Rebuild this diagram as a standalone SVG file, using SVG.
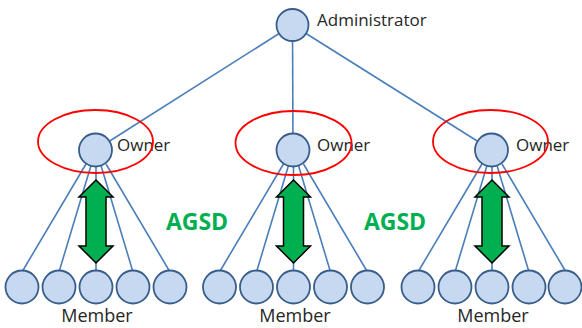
<svg xmlns="http://www.w3.org/2000/svg" width="582" height="328" viewBox="0 0 582 328">
<style>
.node{fill:#C6D9F1;stroke:#385D8A;stroke-width:1.8}
.edge{stroke:#4A7EBB;stroke-width:1.6;fill:none}
.ring{fill:none;stroke:#FF0000;stroke-width:1.8}
.arrow{fill:#00B050;stroke:#000;stroke-width:1.5;stroke-linejoin:miter}
.lbl{font-family:"Open Sans","Liberation Sans",sans-serif;font-size:17px;fill:#262626}
.mem{font-family:"Open Sans","Liberation Sans",sans-serif;font-size:18px;fill:#262626;text-anchor:middle}
.agsd{font-family:"Open Sans","Liberation Sans",sans-serif;font-size:23px;font-weight:bold;fill:#00B050;text-anchor:middle}
</style>
<defs>
<polygon id="dblarrow" class="arrow" points="0,180 17,197 10,197 10,246 17,246 0,263 -17,246 -10,246 -10,197 -17,197"/>
</defs>
<g id="connectors">
<line class="edge" x1="292.5" y1="25" x2="95.5" y2="150"/>
<line class="edge" x1="292.5" y1="25" x2="293" y2="150"/>
<line class="edge" x1="292.5" y1="25" x2="491.5" y2="150"/>
<g transform="translate(95.5,0)">
<line class="edge" x1="-9.5" y1="164" x2="-73.5" y2="272"/>
<line class="edge" x1="-4.5" y1="165.5" x2="-36.5" y2="272"/>
<line class="edge" x1="0.5" y1="166" x2="0.5" y2="272"/>
<line class="edge" x1="5.5" y1="165.5" x2="37.5" y2="272"/>
<line class="edge" x1="10.5" y1="164" x2="74.5" y2="272"/>
</g>
<g transform="translate(293,0)">
<line class="edge" x1="-9.5" y1="164" x2="-73.5" y2="272"/>
<line class="edge" x1="-4.5" y1="165.5" x2="-36.5" y2="272"/>
<line class="edge" x1="0.5" y1="166" x2="0.5" y2="272"/>
<line class="edge" x1="5.5" y1="165.5" x2="37.5" y2="272"/>
<line class="edge" x1="10.5" y1="164" x2="74.5" y2="272"/>
</g>
<g transform="translate(491.5,0)">
<line class="edge" x1="-9.5" y1="164" x2="-73.5" y2="272"/>
<line class="edge" x1="-4.5" y1="165.5" x2="-36.5" y2="272"/>
<line class="edge" x1="0.5" y1="166" x2="0.5" y2="272"/>
<line class="edge" x1="5.5" y1="165.5" x2="37.5" y2="272"/>
<line class="edge" x1="10.5" y1="164" x2="74.5" y2="272"/>
</g>
</g>
<g id="administrator">
<circle class="node" cx="292.5" cy="25" r="16"/>
<text class="lbl" x="317" y="26">Administrator</text>
</g>
<g id="owner1">
<circle class="node" cx="95.5" cy="150" r="16.5"/>
<text class="lbl" x="117" y="151">Owner</text>
<ellipse class="ring" cx="95.5" cy="141.5" rx="57.5" ry="31.5"/>
</g>
<g id="owner2">
<circle class="node" cx="293" cy="150" r="16.5"/>
<text class="lbl" x="317" y="151">Owner</text>
<ellipse class="ring" cx="293.5" cy="143" rx="58" ry="32"/>
</g>
<g id="owner3">
<circle class="node" cx="491.5" cy="150" r="16.5"/>
<text class="lbl" x="516" y="151">Owner</text>
<ellipse class="ring" cx="490.5" cy="141.5" rx="57.5" ry="31.5"/>
</g>
<g id="arrows">
<use href="#dblarrow" x="96"/>
<use href="#dblarrow" x="293.5"/>
<use href="#dblarrow" x="492"/>
</g>
<g id="members1">
<circle class="node" cx="22" cy="287" r="16.5"/>
<circle class="node" cx="59" cy="287" r="16.5"/>
<circle class="node" cx="96" cy="287" r="16.5"/>
<circle class="node" cx="133" cy="287" r="16.5"/>
<circle class="node" cx="170" cy="287" r="16.5"/>
<text class="mem" x="97" y="322">Member</text>
</g>
<g id="members2">
<circle class="node" cx="219.5" cy="287" r="16.5"/>
<circle class="node" cx="256.5" cy="287" r="16.5"/>
<circle class="node" cx="293.5" cy="287" r="16.5"/>
<circle class="node" cx="330.5" cy="287" r="16.5"/>
<circle class="node" cx="367.5" cy="287" r="16.5"/>
<text class="mem" x="295" y="322">Member</text>
</g>
<g id="members3">
<circle class="node" cx="418" cy="287" r="16.5"/>
<circle class="node" cx="455" cy="287" r="16.5"/>
<circle class="node" cx="492" cy="287" r="16.5"/>
<circle class="node" cx="529" cy="287" r="16.5"/>
<circle class="node" cx="565" cy="287" r="16.5"/>
<text class="mem" x="493" y="322">Member</text>
</g>
<g id="agsd1"><text class="agsd" x="197" y="230">AGSD</text></g>
<g id="agsd2"><text class="agsd" x="395" y="230">AGSD</text></g>
</svg>
